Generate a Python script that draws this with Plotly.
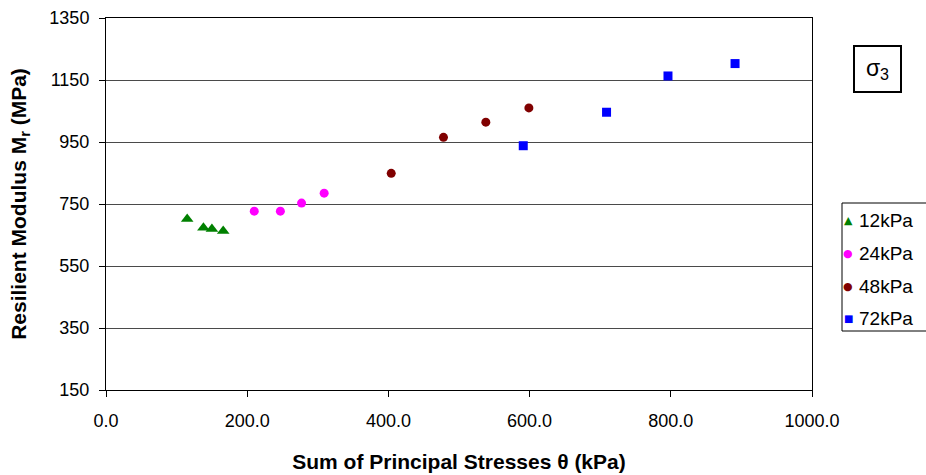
import plotly.graph_objects as go

x12 = [115, 138, 150, 166]
y12 = [702, 673, 669, 663]
x24 = [210, 247, 277, 309]
y24 = [727, 727, 753, 785]
x48 = [404, 478, 538, 599]
y48 = [849, 965, 1014, 1060]
x72 = [591, 709, 796, 891]
y72 = [938, 1046, 1163, 1203]

names = ["12kPa", "24kPa", "48kPa", "72kPa"]
xs_all = [x12, x24, x48, x72]
ys_all = [y12, y24, y48, y72]
symbols = ["triangle-up", "circle", "circle", "square"]
glyphs = ["▲", "●", "●", "■"]
colors = ["#008000", "#ff00ff", "#800000", "#0000ff"]
sizes = [11, 9, 9, 9]
glyph_sizes = [11, 11, 11, 10]

x_ticks = [0, 200, 400, 600, 800, 1000]
x_tick_labels = ["0.0", "200.0", "400.0", "600.0", "800.0", "1000.0"]
y_ticks = [150, 350, 550, 750, 950, 1150, 1350]

W, H = 926, 475
L, R, T, B = 106, 812, 18, 390


def px(x):
    return (x - L) / (R - L)


def py(y):
    return (B - y) / (B - T)


fig = go.Figure()
for name, xs, ys, sym, col, sz in zip(names, xs_all, ys_all, symbols, colors, sizes):
    fig.add_trace(go.Scatter(
        x=xs, y=ys, mode="markers", name=name,
        marker=dict(symbol=sym, color=col, size=sz, line=dict(width=0)),
    ))

font = "Liberation Sans, Arial, sans-serif"

annotations = [dict(
    text="σ<sub>3</sub>", xref="paper", yref="paper",
    x=px(877.5), y=py(69), xanchor="center", yanchor="middle",
    showarrow=False, font=dict(size=23, family=font),
    bordercolor="black", borderwidth=2, borderpad=0, bgcolor="white",
    width=45, height=44,
)]
row_y = [221, 253, 286, 318]
for name, g, col, gs, ry in zip(names, glyphs, colors, glyph_sizes, row_y):
    annotations.append(dict(
        text=g, xref="paper", yref="paper", x=px(848), y=py(ry),
        xanchor="center", yanchor="middle", showarrow=False,
        font=dict(size=gs, color=col, family="DejaVu Sans"),
    ))
    annotations.append(dict(
        text=name, xref="paper", yref="paper", x=px(857), y=py(ry),
        xanchor="left", yanchor="middle", showarrow=False,
        font=dict(size=19, color="black", family=font),
    ))

fig.update_layout(
    width=W, height=H,
    margin=dict(l=L, r=W - R, t=T, b=H - B, autoexpand=False),
    plot_bgcolor="white", paper_bgcolor="white",
    font=dict(family=font, color="black", size=18),
    showlegend=False,
    xaxis=dict(
        range=[0, 1000], tickvals=x_ticks, ticktext=x_tick_labels,
        showgrid=False, zeroline=False,
        showline=True, linecolor="black", linewidth=1, mirror=True,
        ticks="outside", ticklen=6, tickcolor="black",
        tickfont=dict(size=18), ticklabelstandoff=8,
        title=dict(text="<b>Sum of Principal Stresses θ (kPa)</b>",
                   font=dict(size=21), standoff=24),
    ),
    yaxis=dict(
        range=[150, 1350], tickvals=y_ticks,
        showgrid=True, gridcolor="#4a4a4a", gridwidth=1, zeroline=False,
        showline=True, linecolor="black", linewidth=1, mirror=True,
        ticks="outside", ticklen=6, tickcolor="black",
        tickfont=dict(size=18), ticklabelstandoff=6,
        title=dict(text="<b>Resilient Modulus M<sub>r</sub> (MPa)</b>",
                   font=dict(size=21), standoff=17),
    ),
    shapes=[dict(
        type="rect", xref="paper", yref="paper",
        x0=px(842), x1=px(940), y0=py(331), y1=py(203),
        line=dict(color="black", width=1), fillcolor="rgba(0,0,0,0)",
    )],
    annotations=annotations,
)

fig.write_html("out.html")
